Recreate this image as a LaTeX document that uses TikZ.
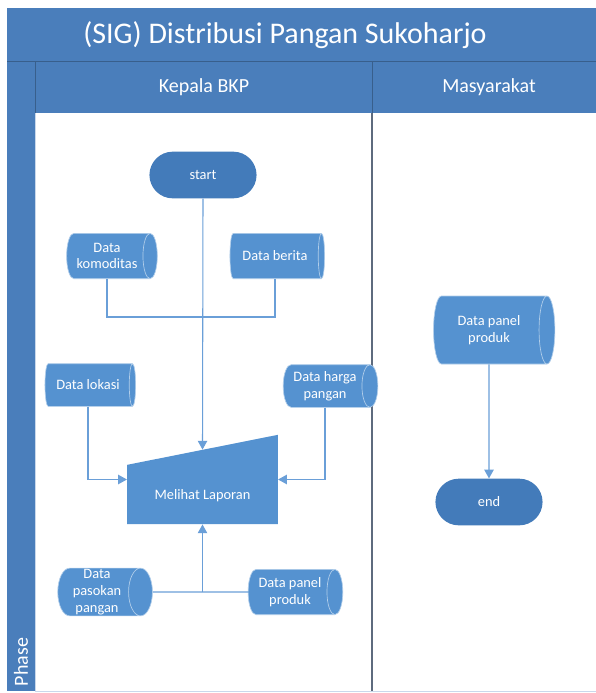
\documentclass[tikz,border=0pt]{standalone}
\usepackage{fontspec}
\setmainfont{Carlito}
\usetikzlibrary{arrows.meta, calc, positioning, shapes.geometric, shapes.misc}

\definecolor{headblue}{HTML}{4A7EBB}
\definecolor{shapeblue}{HTML}{5592D0}
\definecolor{termblue}{HTML}{437BBA}
\definecolor{linkblue}{HTML}{6A9FD8}
\definecolor{edgegray}{HTML}{5E6B7E}

\begin{document}
\begin{tikzpicture}[x=.75pt, y=.75pt, >={Triangle[width=7pt, length=6.5pt]}]
  \tikzset{
   head/.style={text=white, font=\fontsize{15}{18}\selectfont},
   small/.style={text=white, font=\fontsize{10.8}{12.5}\selectfont, align=center},
   term/.style={small, rounded rectangle, fill=termblue, minimum width=87pt, minimum height=35pt},
   % cylinder: width is across the axis, height along it
   data/.style={small, cylinder, shape aspect=.5, fill=shapeblue, draw=white!55!shapeblue, line width=.5pt, inner sep=1pt, minimum width=34pt, minimum height=71pt},
   link/.style={draw=linkblue, line width=.8pt},
  }
  \useasboundingbox (0,0) rectangle (596,-693);
  \clip (0,0) rectangle (596,-693);

  % swimlane frame
  \fill [headblue] (7,-8) rectangle (610,-691);
  \fill [white] (35,-113) rectangle (610,-691);
  \draw [headblue!75!black, line width=.5pt] (7,-61) -- (610,-61);
  \draw [headblue!75!black, line width=.5pt] (35,-61) -- (35,-113) (372,-61) -- (372,-113);
  \draw [white!70!headblue, line width=.6pt] (35,-113) -- (35,-691) -- (610,-691);
  \draw [edgegray, line width=.8pt] (372,-113) -- (372,-691);

  \node [head, font=\fontsize{22.5}{27}\selectfont] (title) at (285,-35) {(SIG) Distribusi Pangan Sukoharjo};
  \node [head] (bkp) at (204,-87) {Kepala BKP};
  \node [head] (mas) at (489,-87) {Masyarakat};
  \node [head, rotate=90] (phase) at (21,-662) {Phase};

  % shapes
  \node [term] (start) at (203,-175) {start};
  \node [term] (end) at (489,-502) {end};
  \node [data, minimum height=68pt] (kom) at (107,-256) {Data\\komoditas};
  \node [data] (ber) at (275,-256) {Data berita};
  \node [data, minimum height=68pt, minimum width=32pt] (lok) at (88,-385) {Data lokasi};
  \node [data, minimum width=32pt] (har) at (325,-386) {Data harga\\pangan};
  \node [data] (pas) at (97,-592) {Data\\pasokan\\pangan};
  \node [data] (pan) at (290,-592) {Data panel\\produk};
  \node [data, minimum height=91pt, minimum width=51pt] (prd) at (489,-330) {Data panel\\produk};
  \node [minimum width=113pt, minimum height=67pt, inner sep=0,
   path picture={\fill [shapeblue] (path picture bounding box.south west)
    -- (path picture bounding box.south east) -- (path picture bounding box.north east)
    -- ([yshift=-22.5pt]path picture bounding box.north west) -- cycle;},
   label={[small, yshift=-12pt]center:Melihat Laporan}] (lap) at (202.5,-479.5) {};
  \coordinate (laptop) at ($(lap.north)+(0,-15)$);
  \coordinate (join) at (start.south |- 0,-317);

  % connectors
  \draw [link] (kom.south) |- (join) -| (ber.south);
  \draw [link, ->] (start.south) -- (laptop);
  \draw [link, ->] (lok.south) |- (lap.west);
  \draw [link, ->] (har.south) |- (lap.east);
  \draw [link] (pas.east) -- (pan.west);
  \draw [link, ->] (lap.south |- pas.east) -- (lap.south);
  \draw [link, ->] (prd.south) -- (end.north);
\end{tikzpicture}
\end{document}
